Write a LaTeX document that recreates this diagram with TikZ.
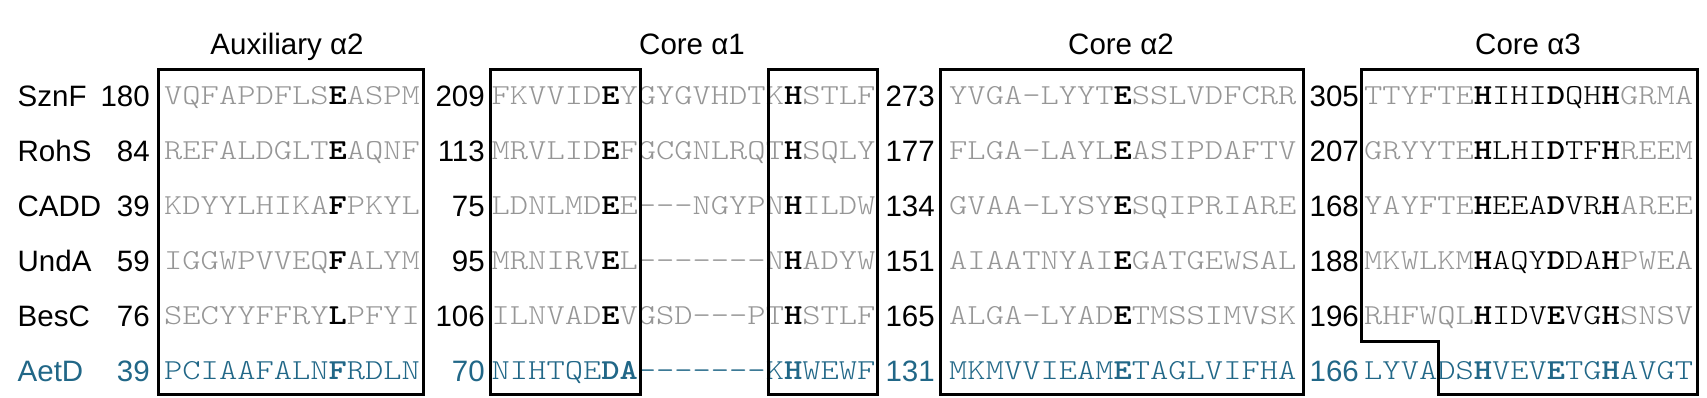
\documentclass[tikz,border=0pt]{standalone}
\usepackage{fontspec}
\setmainfont{Liberation Sans}
\newfontfamily\seqfont[FakeStretch=1.2]{Latin Modern Mono Light}
\definecolor{seqgray}{RGB}{150,150,150}
\definecolor{aet}{RGB}{33,103,135}
\newcommand{\hb}[1]{{\bfseries\color{black}#1}}
\newcommand{\blk}[1]{{\color{black}#1}}
\newcommand{\tb}[1]{{\bfseries #1}}
\tikzset{
  lab/.style={anchor=base west, inner sep=0pt, font=\fontsize{29.5}{30}\selectfont},
  num/.style={anchor=base east, inner sep=0pt, font=\fontsize{29.5}{30}\selectfont},
  ttl/.style={anchor=base, inner sep=0pt, font=\fontsize{29.5}{30}\selectfont},
  seq/.style={anchor=base west, inner sep=0pt, font={\seqfont\fontsize{29}{30}\selectfont}, text=seqgray},
  aseq/.style={seq, text=aet},
  boxline/.style={draw=black, line width=3pt, line join=miter},
}
\begin{document}
\begin{tikzpicture}[x=1pt,y=-1pt]
\useasboundingbox (0,0) rectangle (1707,398);
% titles
\node[ttl] (t1) at (287,55) {Auxiliary α2};
\node[ttl] (t2) at (692,55) {Core α1};
\node[ttl] (t3) at (1121,55) {Core α2};
\node[ttl] (t4) at (1528,55) {Core α3};
% names
\node[lab] (n1) at (17.5,106.7) {SznF};
\node[lab] (n2) at (17.5,161.7) {RohS};
\node[lab] (n3) at (17.5,216.7) {CADD};
\node[lab] (n4) at (17.5,271.7) {UndA};
\node[lab] (n5) at (17.5,326.7) {BesC};
\node[lab, text=aet] (n6) at (17.5,381.7) {AetD};
% numbers column 1
\node[num] (a1) at (150,106.7) {180};
\node[num] (a2) at (150,161.7) {84};
\node[num] (a3) at (150,216.7) {39};
\node[num] (a4) at (150,271.7) {59};
\node[num] (a5) at (150,326.7) {76};
\node[num, text=aet] (a6) at (150,381.7) {39};
% numbers column 2
\node[num] (b1) at (485,106.7) {209};
\node[num] (b2) at (485,161.7) {113};
\node[num] (b3) at (485,216.7) {75};
\node[num] (b4) at (485,271.7) {95};
\node[num] (b5) at (485,326.7) {106};
\node[num, text=aet] (b6) at (485,381.7) {70};
% numbers column 3
\node[num] (c1) at (935,106.7) {273};
\node[num] (c2) at (935,161.7) {177};
\node[num] (c3) at (935,216.7) {134};
\node[num] (c4) at (935,271.7) {151};
\node[num] (c5) at (935,326.7) {165};
\node[num, text=aet] (c6) at (935,381.7) {131};
% numbers column 4
\node[num] (d1) at (1359,106.7) {305};
\node[num] (d2) at (1359,161.7) {207};
\node[num] (d3) at (1359,216.7) {168};
\node[num] (d4) at (1359,271.7) {188};
\node[num] (d5) at (1359,326.7) {196};
\node[num, text=aet] (d6) at (1359,381.7) {166};
% auxiliary alpha2 sequences
\node[seq] (s11) at (164,104.3) {VQFAPDFLS\hb{E}ASPM};
\node[seq] (s12) at (164,159.3) {REFALDGLT\hb{E}AQNF};
\node[seq] (s13) at (164,214.3) {KDYYLHIKA\hb{F}PKYL};
\node[seq] (s14) at (164,269.3) {IGGWPVVEQ\hb{F}ALYM};
\node[seq] (s15) at (164,324.3) {SECYYFFRY\hb{L}PFYI};
\node[aseq] (s16) at (164,379.3) {PCIAAFALN\tb{F}RDLN};
% core alpha1 sequences
\node[seq] (s21) at (491.5,104.3) {FKVVID\hb{E}YGYGVHDTK\hb{H}STLF};
\node[seq] (s22) at (491.5,159.3) {MRVLID\hb{E}FGCGNLRQT\hb{H}SQLY};
\node[seq] (s23) at (491.5,214.3) {LDNLMD\hb{E}E---NGYPN\hb{H}ILDW};
\node[seq] (s24) at (491.5,269.3) {MRNIRV\hb{E}L-------N\hb{H}ADYW};
\node[seq] (s25) at (491.5,324.3) {ILNVAD\hb{E}VGSD---PT\hb{H}STLF};
\node[aseq] (s26) at (491.5,379.3) {NIHTQE\tb{DA}-------K\tb{H}WEWF};
% core alpha2 sequences
\node[seq] (s31) at (949,104.3) {YVGA-LYYT\hb{E}SSLVDFCRR};
\node[seq] (s32) at (949,159.3) {FLGA-LAYL\hb{E}ASIPDAFTV};
\node[seq] (s33) at (949,214.3) {GVAA-LYSY\hb{E}SQIPRIARE};
\node[seq] (s34) at (949,269.3) {AIAATNYAI\hb{E}GATGEWSAL};
\node[seq] (s35) at (949,324.3) {ALGA-LYAD\hb{E}TMSSIMVSK};
\node[aseq] (s36) at (949,379.3) {MKMVVIEAM\tb{E}TAGLVIFHA};
% core alpha3 sequences
\node[seq] (s41) at (1364,104.3) {TTYFTE\hb{H}\blk{IHI}\hb{D}\blk{QH}\hb{H}GRMA};
\node[seq] (s42) at (1364,159.3) {GRYYTE\hb{H}\blk{LHI}\hb{D}\blk{TF}\hb{H}REEM};
\node[seq] (s43) at (1364,214.3) {YAYFTE\hb{H}\blk{EEA}\hb{D}\blk{VR}\hb{H}AREE};
\node[seq] (s44) at (1364,269.3) {MKWLKM\hb{H}\blk{AQY}\hb{D}\blk{DA}\hb{H}PWEA};
\node[seq] (s45) at (1364,324.3) {RHFWQL\hb{H}\blk{IDV}\hb{E}\blk{VG}\hb{H}SNSV};
\node[aseq] (s46) at (1364,379.3) {LYVADS\tb{H}VEV\tb{E}TG\tb{H}AVGT};
% boxes
\draw[boxline] (158,70) rectangle (423,394);
\draw[boxline] (490,70) rectangle (640,394);
\draw[boxline] (768,70) rectangle (877,394);
\draw[boxline] (940,70) rectangle (1303,394);
\draw[boxline] (1361,70) -- (1697,70) -- (1697,394) -- (1438,394) -- (1438,341) -- (1361,341) -- cycle;
\end{tikzpicture}
\end{document}
